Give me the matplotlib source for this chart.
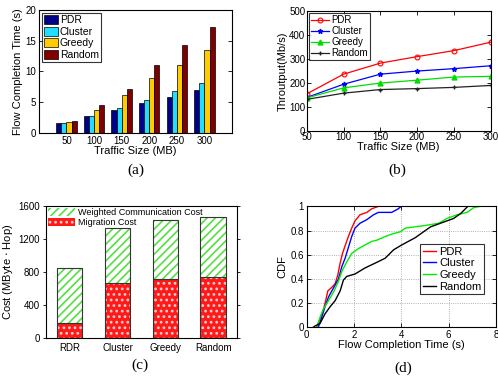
import matplotlib
matplotlib.use("Agg")
import matplotlib.pyplot as plt
import numpy as np
from matplotlib.patches import Patch

plt.rcParams['font.family'] = ['Liberation Sans', 'DejaVu Sans']
plt.rcParams['hatch.linewidth'] = 1.2

# ---------------- data ----------------
traffic = [50, 100, 150, 200, 250, 300]
methods = ['PDR', 'Cluster', 'Greedy', 'Random']

fct_pdr = [1.7, 2.7, 3.7, 4.8, 5.9, 7.0]
fct_cluster = [1.7, 2.7, 4.0, 5.4, 6.8, 8.2]
fct_greedy = [1.8, 3.8, 6.2, 8.9, 11.1, 13.5]
fct_random = [1.9, 4.5, 7.2, 11.1, 14.3, 17.2]

thr_pdr = [155, 237, 283, 310, 335, 370]
thr_cluster = [140, 195, 237, 250, 260, 272]
thr_greedy = [138, 180, 200, 212, 225, 228]
thr_random = [132, 158, 173, 177, 182, 190]

cost_names = ['RDR', 'Cluster', 'Greedy', 'Random']
migration_cost = [175, 665, 715, 735]
comm_cost = [675, 665, 715, 735]

cdf_pdr_x = [0.42, 0.56, 0.70, 0.80, 0.89, 1.06, 1.20, 1.31, 1.41, 1.51, 1.65, 1.76, 1.90, 2.04, 2.25, 2.54, 2.75, 3.03]
cdf_pdr_y = [0.0, 0.07, 0.14, 0.22, 0.30, 0.33, 0.36, 0.43, 0.53, 0.61, 0.69, 0.75, 0.82, 0.88, 0.93, 0.95, 0.98, 1.0]
cdf_cluster_x = [0.49, 0.63, 0.77, 0.92, 1.06, 1.20, 1.34, 1.48, 1.62, 1.76, 1.90, 2.04, 2.25, 2.54, 2.82, 3.03, 3.59, 3.87, 3.99]
cdf_cluster_y = [0.0, 0.08, 0.17, 0.25, 0.30, 0.35, 0.40, 0.50, 0.57, 0.66, 0.75, 0.82, 0.86, 0.89, 0.93, 0.95, 0.95, 0.98, 1.0]
cdf_greedy_x = [0.42, 0.56, 0.70, 0.92, 1.13, 1.34, 1.48, 1.69, 1.90, 2.18, 2.46, 2.75, 2.96, 3.31, 3.59, 3.96, 4.17,
                4.95, 5.58, 5.93, 6.35, 6.78, 7.06, 7.34]
cdf_greedy_y = [0.0, 0.08, 0.15, 0.22, 0.29, 0.38, 0.46, 0.54, 0.61, 0.65, 0.68, 0.71, 0.72, 0.75, 0.77, 0.79, 0.82,
                0.84, 0.86, 0.90, 0.93, 0.95, 0.99, 1.0]
cdf_random_x = [0.28, 0.35, 0.56, 0.77, 0.99, 1.20, 1.41, 1.55, 1.69, 2.04, 2.46, 2.89, 3.31, 3.67, 4.01, 4.58,
                5.23, 5.79, 6.21, 6.50, 6.81]
cdf_random_y = [0.0, 0.01, 0.03, 0.11, 0.17, 0.22, 0.30, 0.39, 0.42, 0.44, 0.49, 0.53, 0.57, 0.64, 0.68, 0.74,
                0.83, 0.87, 0.90, 0.94, 1.0]

# ---------------- figure ----------------
fig = plt.figure(figsize=(4.98, 3.8), dpi=100)

fs_tick = 7
fs_label = 8
fs_cap = 11

def matlab_ticks(ax):
    ax.tick_params(direction='in', top=True, right=True, labelsize=fs_tick,
                   length=3, width=0.6, pad=2)
    for s in ax.spines.values():
        s.set_linewidth(0.8)

# (a)
ax1 = fig.add_axes([0.078, 0.650, 0.388, 0.324])
bar_colors = ['#000088', '#22DDFF', '#FFCC00', '#800000']
idx = np.arange(1, len(traffic) + 1)
w = 0.185
series_a = [fct_pdr, fct_cluster, fct_greedy, fct_random]
for i, (vals, c, m) in enumerate(zip(series_a, bar_colors, methods)):
    ax1.bar(idx + (i - 1.5) * w, vals, w, color=c, edgecolor='black', linewidth=0.5, label=m)
ax1.set_xlim(0, 7)
ax1.set_ylim(0, 20)
ax1.set_xticks(idx)
ax1.set_xticklabels([str(t) for t in traffic])
ax1.set_yticks([0, 5, 10, 15, 20])
ax1.set_xlabel('Traffic Size (MB)', fontsize=fs_label, labelpad=0)
ax1.set_ylabel('Flow Completion Time (s)', fontsize=fs_label, labelpad=2)
matlab_ticks(ax1)
ax1.tick_params(axis='x', length=0)
leg = ax1.legend(loc='upper left', fontsize=7.5, frameon=True, fancybox=False,
                 edgecolor='black', borderpad=0.2, handlelength=1.3, handleheight=1.0,
                 handletextpad=0.2, labelspacing=0.12, borderaxespad=0.3)
leg.get_frame().set_linewidth(0.8)
fig.text(0.272, 0.553, '(a)', fontsize=fs_cap, family='Liberation Serif', ha='center', va='center')

# (b)
ax2 = fig.add_axes([0.616, 0.655, 0.369, 0.316])
ax2.plot(traffic, thr_pdr, color='red', marker='o', markersize=3.5, markerfacecolor='none',
         markeredgewidth=0.8, linewidth=0.9, label='PDR')
ax2.plot(traffic, thr_cluster, color='blue', marker='*', markersize=3.5, linewidth=0.9, label='Cluster')
ax2.plot(traffic, thr_greedy, color='#00DD00', marker='^', markersize=3.5, linewidth=0.9, label='Greedy')
ax2.plot(traffic, thr_random, color='#222222', marker='+', markersize=3.5, linewidth=0.9, label='Random')
ax2.set_xlim(50, 300)
ax2.set_ylim(0, 500)
ax2.set_xticks(traffic)
ax2.set_yticks([0, 100, 200, 300, 400, 500])
ax2.set_xlabel('Traffic Size (MB)', fontsize=fs_label, labelpad=0)
ax2.set_ylabel('Throutput(Mb/s)', fontsize=fs_label, labelpad=1)
matlab_ticks(ax2)
ax2.tick_params(axis='both', pad=1)
leg = ax2.legend(loc='upper left', fontsize=7, frameon=True, fancybox=False,
                 edgecolor='black', borderpad=0.2, handlelength=1.8,
                 handletextpad=0.3, labelspacing=0.1, borderaxespad=0.25)
leg.get_frame().set_linewidth(0.8)
fig.text(0.798, 0.553, '(b)', fontsize=fs_cap, family='Liberation Serif', ha='center', va='center')

# (c)
ax3 = fig.add_axes([0.092, 0.111, 0.384, 0.347])
xc = np.arange(len(cost_names))
bw = 0.53
red_bars = ax3.bar(xc, migration_cost, bw, color='#FF1A1A', edgecolor='#FFD0D0', hatch='...', linewidth=0)
ax3.bar(xc, migration_cost, bw, color='none', edgecolor='#333333', linewidth=0.8)
green_bars = ax3.bar(xc, comm_cost, bw, bottom=migration_cost, color='white', edgecolor='#55E044',
                     hatch='////', linewidth=0)
ax3.bar(xc, comm_cost, bw, bottom=migration_cost, color='none', edgecolor='#333333', linewidth=0.8)
ax3.set_xlim(-0.5, 3.5)
ax3.set_ylim(0, 1600)
ax3.set_xticks(xc)
ax3.set_xticklabels(cost_names)
ax3.set_yticks([0, 400, 800, 1200, 1600])
ax3.set_ylabel('Cost (MByte $\\cdot$ Hop)', fontsize=fs_label, labelpad=2)
ax3.tick_params(direction='out', labelsize=fs_tick, length=2.5, width=0.6, pad=2)
ax3.tick_params(axis='x', length=0, pad=4)
ax3.tick_params(axis='y', right=True)
for s in ax3.spines.values():
    s.set_linewidth(0.8)
h1 = Patch(facecolor='white', edgecolor='#55E044', hatch='////', linewidth=0)
h2 = Patch(facecolor='#FF1A1A', edgecolor='#FFD0D0', hatch='...', linewidth=0)
leg = ax3.legend([h1, h2], ['Weighted Communication Cost', 'Migration Cost'], loc='upper left',
                 fontsize=6.5, frameon=False, borderpad=0.1, handlelength=3.0, handleheight=0.9,
                 handletextpad=0.3, labelspacing=0.1, borderaxespad=0.15)
fig.text(0.282, 0.040, '(c)', fontsize=fs_cap, family='Liberation Serif', ha='center', va='center')

# (d)
ax4 = fig.add_axes([0.616, 0.139, 0.380, 0.318])
ax4.plot(cdf_pdr_x, cdf_pdr_y, color='red', linewidth=1.0, label='PDR')
ax4.plot(cdf_cluster_x, cdf_cluster_y, color='blue', linewidth=1.0, label='Cluster')
ax4.plot(cdf_greedy_x, cdf_greedy_y, color='#00EE00', linewidth=1.0, label='Greedy')
ax4.plot(cdf_random_x, cdf_random_y, color='black', linewidth=1.0, label='Random')
ax4.set_xlim(0, 8)
ax4.set_ylim(0, 1)
ax4.set_xticks([0, 2, 4, 6, 8])
ax4.set_yticks([0, 0.2, 0.4, 0.6, 0.8, 1.0])
ax4.set_yticklabels(['0', '0.2', '0.4', '0.6', '0.8', '1'])
ax4.grid(True, linestyle=':', color='#999999', linewidth=0.6)
ax4.set_xlabel('Flow Completion Time (s)', fontsize=fs_label, labelpad=0)
ax4.set_ylabel('CDF', fontsize=fs_label, labelpad=2)
matlab_ticks(ax4)
leg = ax4.legend(loc='center left', bbox_to_anchor=(0.6, 0.48), fontsize=8, frameon=True,
                 fancybox=False, edgecolor='black', borderpad=0.2, handlelength=1.2,
                 handletextpad=0.3, labelspacing=0.15, borderaxespad=0.0)
leg.get_frame().set_linewidth(0.8)
fig.text(0.810, 0.032, '(d)', fontsize=fs_cap, family='Liberation Serif', ha='center', va='center')

fig.savefig('out.png', dpi=100)
